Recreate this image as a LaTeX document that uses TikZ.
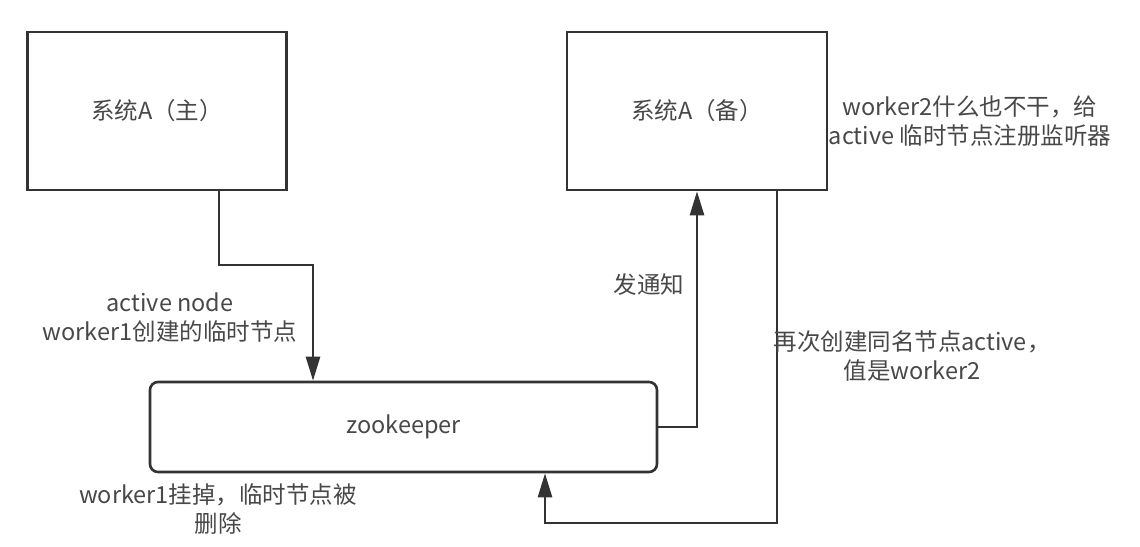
\documentclass[tikz,border=0pt]{standalone}
\usepackage{fontspec}
\setmainfont{Noto Sans CJK SC}
\usetikzlibrary{arrows.meta,calc}
\definecolor{ln}{HTML}{333333}
\definecolor{tx}{HTML}{484848}
\begin{document}
\begin{tikzpicture}[x=1pt,y=-1pt,
  font=\fontsize{23.5}{29}\selectfont,
  box/.style={draw=ln,line width=2.6pt,fill=white,text=tx,inner sep=0pt},
  lbl/.style={text=tx,align=center,inner sep=0pt},
  conn/.style={draw=ln,line width=2.6pt},
  arr/.style={conn,-{Triangle[length=24pt,width=14pt]}}]
\useasboundingbox (0,0) rectangle (1140,546);
\node[box,minimum width=259pt,minimum height=158pt] (b1) at (157,111) {系统A（主）};
\node[box,minimum width=260pt,minimum height=158pt] (b2) at (697,111) {系统A（备）};
\node[box,rounded corners=8pt,minimum width=507pt,minimum height=90pt] (zk) at (403.5,427) {zookeeper};
% connectors
\coordinate (c1) at (219,265);
\coordinate (c2) at (313,265);
\draw[arr] (b1.south -| c1) -- (c1) -- (c2) -- (zk.north -| c2);
\coordinate (c3) at (697,427);
\draw[arr] (zk.east |- c3) -- (c3) -- (b2.south -| c3);
\coordinate (c4) at (777,523);
\coordinate (c5) at (545,523);
\draw[arr] (b2.south -| c4) -- (c4) -- (c5) -- (zk.south -| c5);
% labels
\node[lbl] (l1) at (170,318) {active node\\worker1创建的临时节点};
\node[lbl] (l2) at (649,285) {发通知};
\node[lbl] (l3) at (912,356) {再次创建同名节点active，\\值是worker2};
\node[lbl] (l4) at (218,509) {worker1挂掉，临时节点被\\删除};
\node[lbl] (l5) at (970,121) {worker2什么也不干，给\\active 临时节点注册监听器};
\end{tikzpicture}
\end{document}
